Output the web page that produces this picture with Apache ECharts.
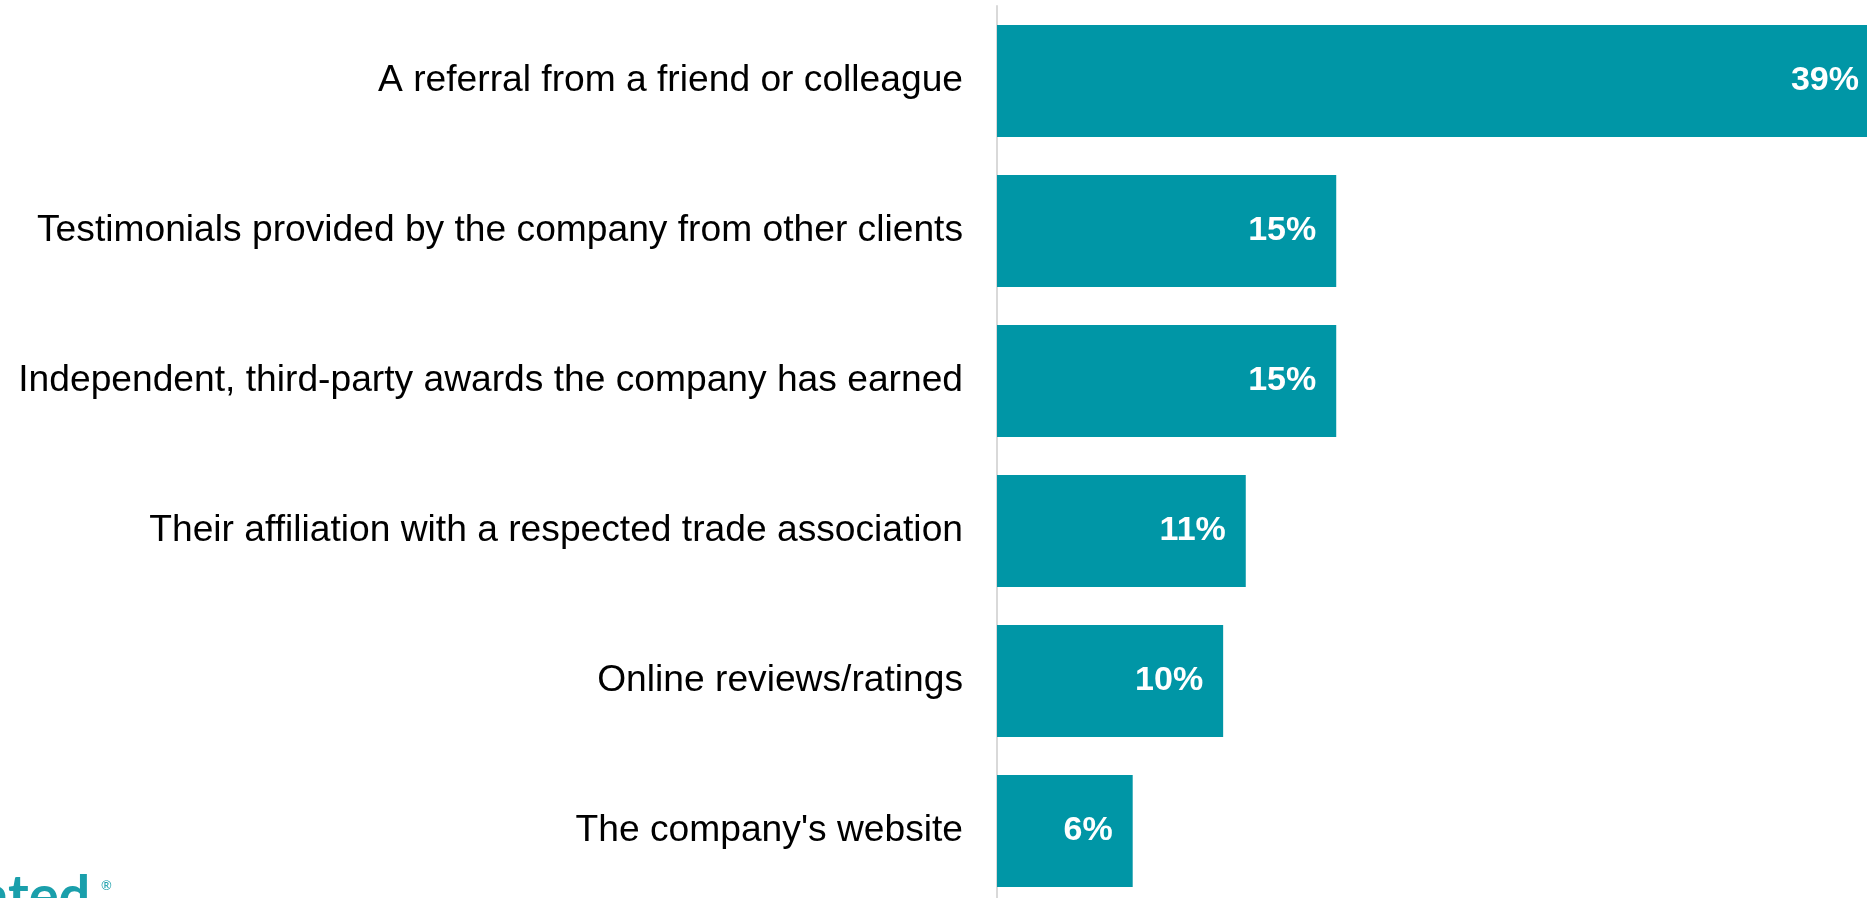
<!DOCTYPE html>
<html>
<head>
<meta charset="utf-8">
<title>What builds trust in a company</title>
<script src="https://cdn.jsdelivr.net/npm/echarts@6/dist/echarts.min.js"></script>
<style>
  html, body { margin: 0; padding: 0; background: #ffffff; }
  #chart { width: 1867px; height: 898px; }
</style>
</head>
<body>
<div id="chart"></div>
<script>
// Survey answers, top to bottom
const categories = [
  'A referral from a friend or colleague',
  'Testimonials provided by the company from other clients',
  'Independent, third-party awards the company has earned',
  'Their affiliation with a respected trade association',
  'Online reviews/ratings',
  "The company's website"
];
// Share of respondents, in percent
const shares = [39, 15, 15, 11, 10, 6];

const TEAL = '#0096a6';
const FONT = '"Liberation Sans", Arial, Helvetica, sans-serif';

const chart = echarts.init(document.getElementById('chart'), null, { renderer: 'canvas' });

chart.setOption({
  animation: false,
  backgroundColor: '#ffffff',
  grid: {
    left: 997,
    right: -12,
    top: 6,
    bottom: -8,
    containLabel: false,
    outerBoundsMode: 'none'
  },
  xAxis: {
    type: 'value',
    min: 0,
    max: 39,
    show: false,
    splitLine: { show: false }
  },
  yAxis: {
    type: 'category',
    inverse: true,
    data: categories,
    axisLine: { show: true, lineStyle: { color: '#d9d9d9', width: 2 } },
    axisTick: { show: false },
    splitLine: { show: false },
    axisLabel: {
      margin: 34,
      fontSize: 37.2,
      color: '#000000',
      fontFamily: FONT
    }
  },
  series: [{
    type: 'bar',
    data: shares,
    barWidth: 112,
    itemStyle: { color: TEAL },
    label: {
      show: true,
      position: 'insideRight',
      distance: 20,
      color: '#ffffff',
      fontWeight: 'bold',
      fontSize: 34,
      fontFamily: FONT,
      formatter: p => p.value + '%'
    }
  }],
  graphic: [
    {
      type: 'text',
      left: -20,
      top: 869,
      silent: true,
      style: {
        text: 'ated',
        fill: '#1a9fab',
        font: 'bold 56px Lato, "Open Sans", sans-serif'
      }
    },
    {
      type: 'text',
      left: 101,
      top: 879,
      silent: true,
      style: {
        text: '\u00ae',
        fill: '#1a9fab',
        font: '13px Lato, "Open Sans", sans-serif'
      }
    }
  ]
});
</script>
</body>
</html>
